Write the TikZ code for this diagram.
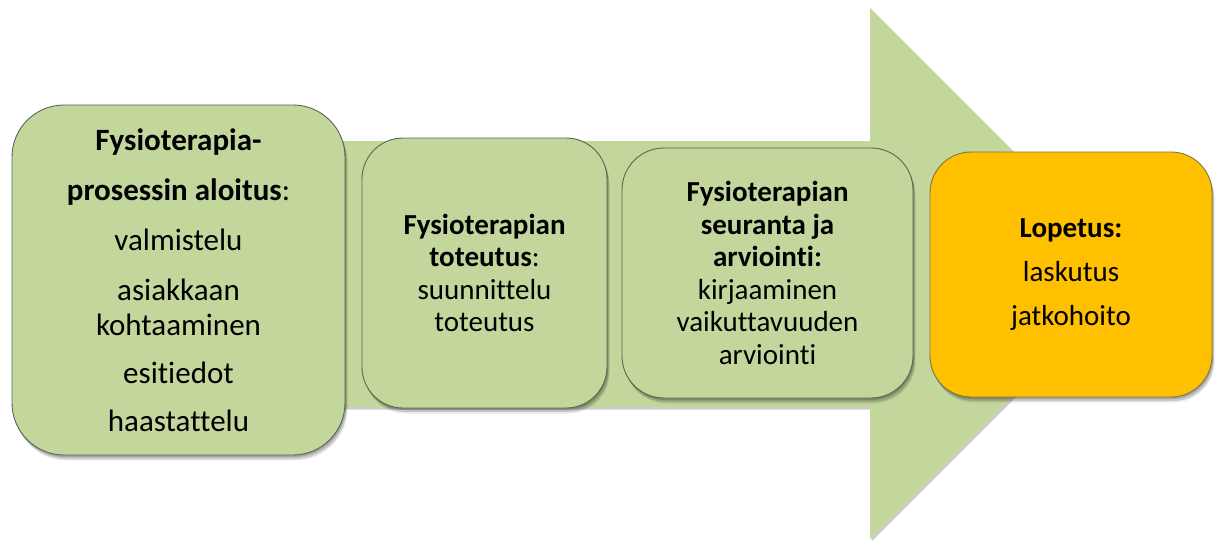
\documentclass[tikz,border=0pt]{standalone}
\usepackage{fontspec}
\setmainfont[Ligatures={NoCommon}]{Carlito}
\usetikzlibrary{shadows}
\definecolor{arrowgreen}{HTML}{C3D69B}
\definecolor{boxgreen}{HTML}{C3D69B}
\definecolor{boxorange}{HTML}{FFC000}
\definecolor{boxedge}{HTML}{5E6650}
\tikzset{
  softshadow/.style={
    drop shadow={shadow xshift=1pt, shadow yshift=-2pt, opacity=0.18, fill=black},
    drop shadow={shadow xshift=2pt, shadow yshift=-4pt, opacity=0.15, fill=black},
    drop shadow={shadow xshift=2.5pt, shadow yshift=-5.5pt, opacity=0.08, fill=black}},
  stage/.style={rectangle, draw=boxedge, line width=0.9pt, fill=boxgreen, align=center,
    inner sep=0pt, font=\fontsize{29}{32.5}\selectfont, softshadow},
  finalstage/.style={stage, fill=boxorange, draw=boxedge!80!boxorange},
}
\begin{document}
\begin{tikzpicture}[x=1pt,y=-1pt]
\useasboundingbox (0,0) rectangle (1218,543);
% big arrow
\fill[arrowgreen, drop shadow={shadow xshift=1.5pt, shadow yshift=-2.5pt, opacity=0.2, fill=black}]
  (40,141) -- (870,141) -- (870,8) -- (1135.5,273.5) -- (870,539) -- (870,407) -- (40,407) -- cycle;
% boxes
\node[stage, rounded corners=52pt, minimum width=333pt, minimum height=350pt,
      font=\fontsize{31}{35}\selectfont] (b1) at (178.5,280)
  {\textbf{Fysioterapia-}\\[15pt]\textbf{prosessin aloitus}:\\[15pt]valmistelu\\[15pt]asiakkaan\\kohtaaminen\\[13pt]esitiedot\\[13pt]haastattelu};
\node[stage, rounded corners=41pt, minimum width=245pt, minimum height=270pt] (b2) at (484.5,273)
  {\textbf{Fysioterapian}\\\textbf{toteutus}:\\suunnittelu\\toteutus};
\node[stage, rounded corners=42pt, minimum width=291pt, minimum height=250pt] (b3) at (767.5,273)
  {\textbf{Fysioterapian}\\\textbf{seuranta ja}\\\textbf{arviointi:}\\kirjaaminen\\vaikuttavuuden\\arviointi};
\node[finalstage, rounded corners=41pt, minimum width=282pt, minimum height=245pt] (b4) at (1071,274.5)
  {\textbf{Lopetus:}\\[11.5pt]laskutus\\[11.5pt]jatkohoito};
\end{tikzpicture}
\end{document}
